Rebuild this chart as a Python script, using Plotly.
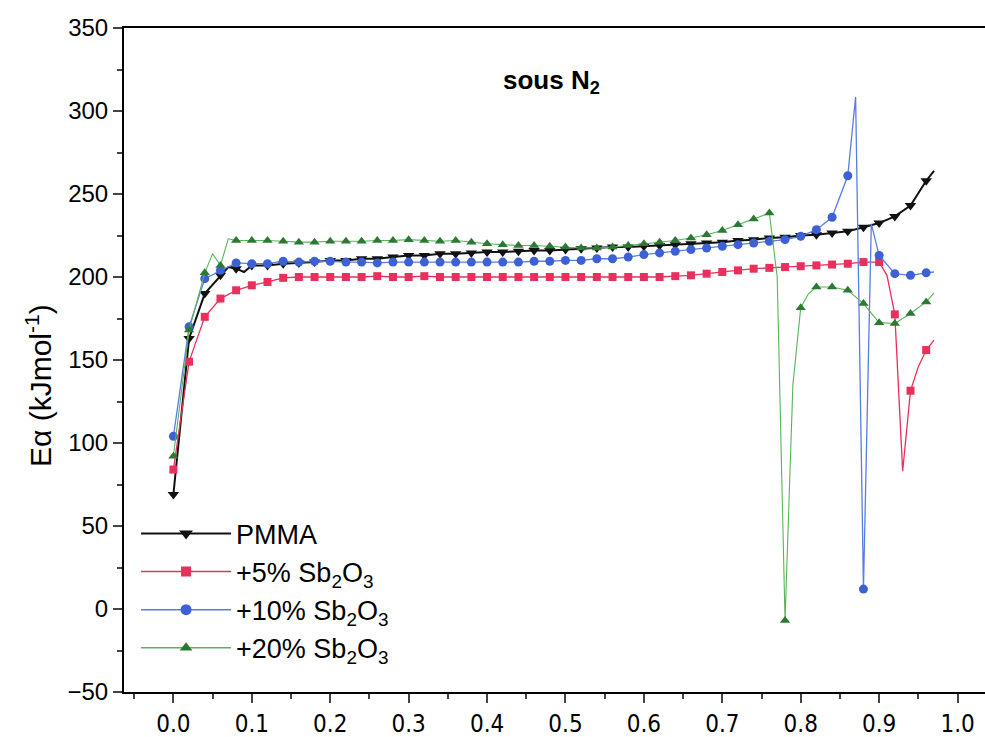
import plotly.graph_objects as go

# conversion alpha at symbol positions
alpha = [0.00, 0.02, 0.04, 0.06, 0.08, 0.10, 0.12, 0.14, 0.16, 0.18,
         0.20, 0.22, 0.24, 0.26, 0.28, 0.30, 0.32, 0.34, 0.36, 0.38,
         0.40, 0.42, 0.44, 0.46, 0.48, 0.50, 0.52, 0.54, 0.56, 0.58,
         0.60, 0.62, 0.64, 0.66, 0.68, 0.70, 0.72, 0.74, 0.76, 0.78,
         0.80, 0.82, 0.84, 0.86, 0.88, 0.90, 0.92, 0.94, 0.96]

ea_pmma = [69, 163, 190, 201, 205, 207, 207, 208, 208.5, 209,
           210, 210, 211, 211, 212, 213, 213, 214, 214, 214.5,
           215, 215, 215.5, 216, 216, 216.5, 217, 217.5, 218, 218,
           218.5, 219, 219.5, 220, 220.5, 221, 222, 222.5, 223.5, 224,
           225, 225.5, 226.5, 227.5, 230, 232.5, 236.5, 243, 258]
pmma_extra_alpha = [0.07, 0.09, 0.97]
pmma_extra_ea = [206, 203, 264]

ea_sb5 = [84, 149, 176, 187, 192, 195, 197, 199.5, 200, 200,
          200, 200, 200, 200.5, 200, 200, 200.5, 200, 200, 200,
          200, 200, 200, 200, 200, 200, 200, 200, 200, 200,
          200, 200, 200.5, 201, 202, 203, 204, 205, 205.5, 206,
          206.5, 207, 207.5, 208, 209, 209, 177.5, 131.5, 156]
sb5_extra_alpha = [0.91, 0.93, 0.95, 0.97]
sb5_extra_ea = [201, 83, 146, 162]

ea_sb10 = [104, 170, 199, 204, 208.5, 208, 208, 209.5, 209, 209.5,
           209.5, 209, 209, 208.5, 209, 209, 209, 209, 209, 209,
           209, 209, 209, 209.5, 209.5, 210, 210, 211, 211, 212,
           213.5, 214.5, 215.5, 216.5, 217.5, 218.5, 219.5, 220.5, 221.5, 222.5,
           224.5, 228.5, 236, 261, 12, 213, 202, 201, 202.5]
sb10_extra_alpha = [0.87, 0.89, 0.97]
sb10_extra_ea = [308.5, 232, 203]

ea_sb20 = [92, 168, 202.5, 207, 222, 222, 222, 221.5, 221, 221,
           221.5, 221.5, 221.5, 222, 222, 222.5, 222, 221.5, 222, 221,
           220, 219.5, 219, 219, 218.5, 218, 217.5, 217.5, 218, 219,
           220, 221, 222, 223.5, 225.5, 228, 231.5, 235, 238.5, -7,
           181.5, 194, 194, 192, 184, 172.5, 172, 178, 185]
sb20_extra_alpha = [0.05, 0.07, 0.77, 0.79, 0.81, 0.97]
sb20_extra_ea = [214, 223, 200, 135, 190, 190.5]

x_ticks = [0.0, 0.1, 0.2, 0.3, 0.4, 0.5, 0.6, 0.7, 0.8, 0.9, 1.0]
x_ticktext = ["0.0", "0.1", "0.2", "0.3", "0.4", "0.5", "0.6", "0.7", "0.8", "0.9", "1.0"]

series = [
    ("PMMA", ea_pmma, pmma_extra_alpha, pmma_extra_ea,
     "#111111", "#111111", 2.0, "triangle-down", 10),
    ("+5% Sb<sub>2</sub>O<sub>3</sub>", ea_sb5, sb5_extra_alpha, sb5_extra_ea,
     "#e8305c", "#e8305c", 1.3, "square", 8),
    ("+10% Sb<sub>2</sub>O<sub>3</sub>", ea_sb10, sb10_extra_alpha, sb10_extra_ea,
     "#3d60d4", "#5a7ee0", 1.3, "circle", 9),
    ("+20% Sb<sub>2</sub>O<sub>3</sub>", ea_sb20, sb20_extra_alpha, sb20_extra_ea,
     "#2b7a33", "#58b35c", 1.1, "triangle-up", 9),
]

fig = go.Figure()
for name, ea, xa, ya, mcol, lcol, lw, sym, ms in series:
    pts = sorted(list(zip(alpha, ea)) + list(zip(xa, ya)))
    fig.add_trace(go.Scatter(x=[p[0] for p in pts], y=[p[1] for p in pts],
                             mode="lines", line=dict(color=lcol, width=lw),
                             showlegend=False, hoverinfo="skip"))
    fig.add_trace(go.Scatter(x=alpha, y=ea, mode="markers",
                             marker=dict(symbol=sym, size=ms, color=mcol),
                             showlegend=False))
    fig.add_trace(go.Scatter(x=[None], y=[None], mode="lines+markers", name=name,
                             line=dict(color=lcol, width=max(lw, 1.5)),
                             marker=dict(symbol=sym, size=ms + 2, color=mcol)))

fig.add_annotation(x=0.497, y=0.919, xref="paper", yref="paper",
                   xanchor="center", yanchor="middle",
                   text="<b>sous N<sub>2</sub></b>",
                   showarrow=False, font=dict(size=26, color="black"))
fig.add_annotation(x=-0.099, y=0.462, xref="paper", yref="paper",
                   xanchor="center", yanchor="middle",
                   text="E\u03b1 (kJmol<sup>-1</sup>)", textangle=-90,
                   showarrow=False, font=dict(size=30, color="black"))

fig.update_layout(
    width=985, height=737,
    margin=dict(l=124, r=0, t=28, b=45),
    paper_bgcolor="white", plot_bgcolor="white",
    font=dict(family="Arial, Liberation Sans, sans-serif", color="black"),
    legend=dict(x=0.014, y=0.275, xanchor="left", yanchor="top",
                bgcolor="rgba(0,0,0,0)", font=dict(size=27), itemwidth=90,
                tracegroupgap=3),
    xaxis=dict(range=[-0.063, 1.035], tickvals=x_ticks, ticktext=x_ticktext,
               ticks="outside", ticklen=9, tickwidth=1.5, showline=True,
               linewidth=2, linecolor="black", mirror=True, showgrid=False,
               zeroline=False,
               tickfont=dict(size=24, family="Liberation Sans Narrow, DejaVu Sans Condensed, Arial"),
               minor=dict(ticks="outside", ticklen=5, tickwidth=1.5,
                          tick0=0, dtick=0.05)),
    yaxis=dict(range=[-50, 350], dtick=50, tick0=0, ticks="outside", ticklen=9,
               tickwidth=1.5, showline=True, linewidth=2, linecolor="black",
               showgrid=False, zeroline=False, tickfont=dict(size=24),
               minor=dict(ticks="outside", ticklen=5, tickwidth=1.5,
                          tick0=0, dtick=25)),
)

fig.write_html("out.html", config={"displayModeBar": False},
               post_script="document.body.style.margin='0px';")
